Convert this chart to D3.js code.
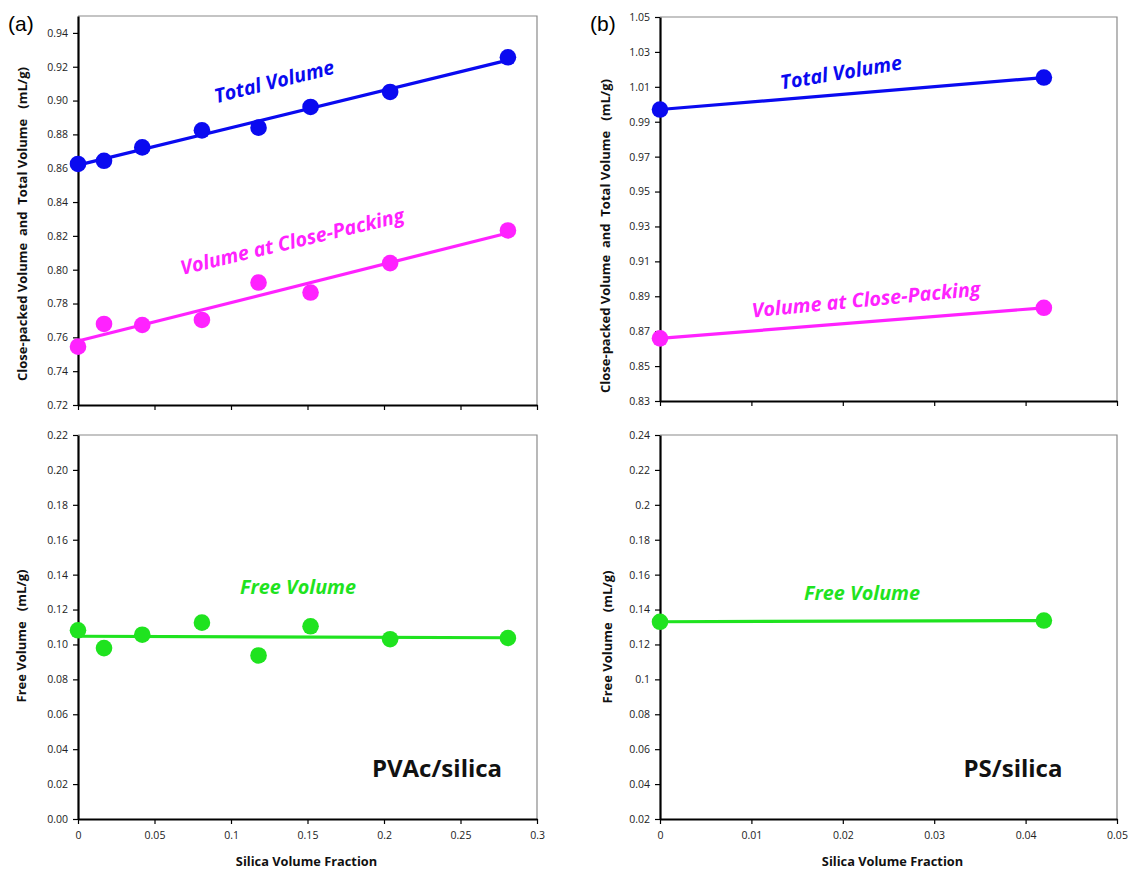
<!DOCTYPE html>
<html>
<head>
<meta charset="utf-8">
<script src="https://cdn.jsdelivr.net/npm/d3@7"></script>
<style>
body { margin: 0; background: #fff; }
text { white-space: pre; }
</style>
</head>
<body>
<script>
//Taille de la figure
var larg = 1128;
var haut = 869;

// (a) PVAc/silica
var fracA = [0, 0.017, 0.042, 0.081, 0.118, 0.152, 0.204, 0.281];
var totalA = [0.8625, 0.8644, 0.8723, 0.8824, 0.8840, 0.8962, 0.9051, 0.9256];
var closeA = [0.7545, 0.7679, 0.7673, 0.7703, 0.7924, 0.7865, 0.8039, 0.8232];
var freeA = [0.1081, 0.0979, 0.1056, 0.1125, 0.0937, 0.1104, 0.1030, 0.1037];

// (b) PS/silica
var fracB = [0, 0.042];
var totalB = [0.997, 1.0153];
var closeB = [0.8659, 0.8834];
var freeB = [0.133, 0.1337];

// graduations
var xTicksA = [0, 0.05, 0.1, 0.15, 0.2, 0.25, 0.3];
var xTicksB = [0, 0.01, 0.02, 0.03, 0.04, 0.05];
var yTicksA1 = [0.72, 0.74, 0.76, 0.78, 0.80, 0.82, 0.84, 0.86, 0.88, 0.90, 0.92, 0.94];
var yTicksA2 = [0, 0.02, 0.04, 0.06, 0.08, 0.10, 0.12, 0.14, 0.16, 0.18, 0.20, 0.22];
var yTicksB1 = [0.83, 0.85, 0.87, 0.89, 0.91, 0.93, 0.95, 0.97, 0.99, 1.01, 1.03, 1.05];
var yTicksB2 = [0.02, 0.04, 0.06, 0.08, 0.1, 0.12, 0.14, 0.16, 0.18, 0.2, 0.22, 0.24];

var bleu = "#0a0af0";
var rose = "#ff22ff";
var vert = "#1fe31f";

var svg = d3.select("body")
	.append("svg")
	.attr("width", larg)
	.attr("height", haut);

// droite des moindres carres
function fit(xs, ys) {
	var mx = d3.mean(xs), my = d3.mean(ys);
	var b = d3.sum(xs, function(x, i) { return (x - mx) * (ys[i] - my); }) /
		d3.sum(xs, function(x) { return (x - mx) * (x - mx); });
	return [my - b * mx, b];
}

function panneau(p) {
	var xScale = d3.scaleLinear().domain(p.xDom).range([p.left, p.right]);
	var yScale = d3.scaleLinear().domain(p.yDom).range([p.bottom, p.top]);
	var g = svg.append("g");

	// cadre gris haut et droite
	g.append("path")
		.attr("d", "M" + p.left + "," + p.top + "H" + p.right + "V" + p.bottom)
		.attr("fill", "none")
		.attr("stroke", "#8a8a8a")
		.attr("stroke-width", 1.2);

	var xAxis = d3.axisBottom(xScale)
		.tickValues(p.xTicks)
		.tickSize(5)
		.tickSizeOuter(0)
		.tickPadding(8)
		.tickFormat(p.xLabels ? d3.format("~g") : "");
	var ax = g.append("g")
		.attr("transform", "translate(0," + p.bottom + ")")
		.call(xAxis);

	var yAxis = d3.axisLeft(yScale)
		.tickValues(p.yTicks)
		.tickSize(5)
		.tickSizeOuter(0)
		.tickPadding(5)
		.tickFormat(p.yFmt);
	var ay = g.append("g")
		.attr("transform", "translate(" + p.left + ",0)")
		.call(yAxis);

	[ax, ay].forEach(function(a) {
		a.select(".domain").attr("stroke", "#000").attr("stroke-width", 2.2);
		a.selectAll(".tick line").attr("stroke", "#000").attr("stroke-width", 1.2);
		a.selectAll(".tick text")
			.attr("font-family", "'Open Sans', sans-serif")
			.attr("font-size", "10.5px")
			.attr("fill", "#222");
	});

	p.series.forEach(function(s) {
		var c = fit(s.x, s.y);
		var x1 = d3.max(s.x);
		g.append("line")
			.attr("x1", xScale(0))
			.attr("y1", yScale(c[0]))
			.attr("x2", xScale(x1))
			.attr("y2", yScale(c[0] + c[1] * x1))
			.attr("stroke", s.color)
			.attr("stroke-width", 3.2);
		g.selectAll(null)
			.data(s.x)
			.enter()
			.append("circle")
			.attr("cx", function(d) { return xScale(d); })
			.attr("cy", function(d, i) { return yScale(s.y[i]); })
			.attr("r", 8.3)
			.attr("fill", s.color);
	});

	// titre axe y
	g.append("text")
		.attr("transform", "translate(" + p.yTitleX + "," + p.yTitleY + ") rotate(-90)")
		.attr("text-anchor", "middle")
		.attr("dominant-baseline", "central")
		.attr("font-family", "'Open Sans', sans-serif")
		.attr("font-weight", "bold")
		.attr("font-size", "13px")
		.attr("fill", "#111")
		.text(p.yTitle);

	if (p.xLabels) {
		g.append("text")
			.attr("x", (p.left + p.right) / 2 + p.xTitleDx)
			.attr("y", 866)
			.attr("text-anchor", "middle")
			.attr("font-family", "'Open Sans', sans-serif")
			.attr("font-weight", "bold")
			.attr("font-size", "12.8px")
			.attr("fill", "#111")
			.text("Silica Volume Fraction");
	}

	p.notes.forEach(function(n) {
		g.append("text")
			.attr("transform", "translate(" + n.x + "," + n.y + ") rotate(" + n.a + ")")
			.attr("text-anchor", "middle")
			.attr("dominant-baseline", "central")
			.attr("font-family", "'Open Sans', sans-serif")
			.attr("font-weight", "bold")
			.attr("font-style", "italic")
			.attr("font-size", n.size + "px")
			.attr("fill", n.color)
			.text(n.t);
	});
}

var titreHaut = "Close-packed Volume  and  Total Volume   (mL/g)";
var titreBas = "Free Volume   (mL/g)";

panneau({
	left: 78, right: 537, top: 16, bottom: 405,
	xDom: [0, 0.3], yDom: [0.72, 0.95],
	xTicks: xTicksA, yTicks: yTicksA1, yFmt: d3.format(".2f"), xLabels: false,
	series: [{x: fracA, y: totalA, color: bleu}, {x: fracA, y: closeA, color: rose}],
	yTitle: titreHaut, yTitleX: 22, yTitleY: 224,
	notes: [
		{t: "Total Volume", x: 274, y: 81, a: -14, size: 19.8, color: bleu},
		{t: "Volume at Close-Packing", x: 292, y: 241, a: -13.5, size: 19.8, color: rose}
	]
});

panneau({
	left: 78, right: 537, top: 435, bottom: 819,
	xDom: [0, 0.3], yDom: [0, 0.22],
	xTicks: xTicksA, yTicks: yTicksA2, yFmt: d3.format(".2f"), xLabels: true, xTitleDx: -1,
	series: [{x: fracA, y: freeA, color: vert}],
	yTitle: titreBas, yTitleX: 21, yTitleY: 636,
	notes: [{t: "Free Volume", x: 298, y: 586, a: 0, size: 19.8, color: vert}]
});

panneau({
	left: 660, right: 1117, top: 17, bottom: 401,
	xDom: [0, 0.05], yDom: [0.83, 1.05],
	xTicks: xTicksB, yTicks: yTicksB1, yFmt: d3.format(".2f"), xLabels: false,
	series: [{x: fracB, y: totalB, color: bleu}, {x: fracB, y: closeB, color: rose}],
	yTitle: titreHaut, yTitleX: 605, yTitleY: 236,
	notes: [
		{t: "Total Volume", x: 841, y: 72, a: -9.5, size: 19.8, color: bleu},
		{t: "Volume at Close-Packing", x: 866, y: 299, a: -5.5, size: 19.8, color: rose}
	]
});

panneau({
	left: 660, right: 1117, top: 435, bottom: 819,
	xDom: [0, 0.05], yDom: [0.02, 0.24],
	xTicks: xTicksB, yTicks: yTicksB2, yFmt: d3.format("~g"), xLabels: true, xTitleDx: 4,
	series: [{x: fracB, y: freeB, color: vert}],
	yTitle: titreBas, yTitleX: 607, yTitleY: 637,
	notes: [{t: "Free Volume", x: 862, y: 592, a: 0, size: 19.8, color: vert}]
});

// etiquettes des panneaux
svg.append("text").attr("x", 8).attr("y", 31)
	.attr("font-family", "'Liberation Sans', Arial, sans-serif")
	.attr("font-size", "21px").text("(a)");
svg.append("text").attr("x", 590).attr("y", 31)
	.attr("font-family", "'Liberation Sans', Arial, sans-serif")
	.attr("font-size", "21px").text("(b)");

svg.append("text").attr("x", 437).attr("y", 777)
	.attr("text-anchor", "middle")
	.attr("font-family", "'Open Sans', sans-serif")
	.attr("font-weight", "bold")
	.attr("font-size", "24px")
	.attr("fill", "#111")
	.text("PVAc/silica");
svg.append("text").attr("x", 1013).attr("y", 777)
	.attr("text-anchor", "middle")
	.attr("font-family", "'Open Sans', sans-serif")
	.attr("font-weight", "bold")
	.attr("font-size", "24px")
	.attr("fill", "#111")
	.text("PS/silica");
</script>
</body>
</html>
